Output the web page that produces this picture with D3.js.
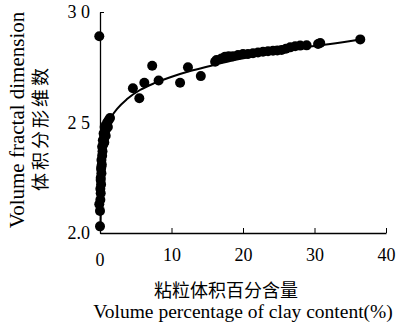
<!DOCTYPE html>
<html>
<head>
<meta charset="UTF-8">
<style>
  body { margin: 0; background: #fff; }
  svg text { font-family: 'Liberation Serif', 'DejaVu Serif', serif; fill: #000; }
  .cjk { font-family: 'Noto Sans CJK SC', sans-serif; }
</style>
</head>
<body>
<div id="chart"></div>
<script src="https://cdnjs.cloudflare.com/ajax/libs/d3/7.8.5/d3.min.js"></script>
<script>
// clay content (%) vs volume fractal dimension
const clay = [
  -0.1, 0, 0, -0.1,
  0.05, 0.1, 0.05, 0.15, 0.1, 0.2, 0.15, 0.25, 0.2, 0.3, 0.35, 0.3, 0.45, 0.4, 0.55, 0.5,
  0.7, 0.65, 0.9, 1.0, 1.2, 1.4, 0.8, 0.2, 0.1, 0.6, 0.85, 1.1,
  4.6, 5.5, 6.2, 7.3, 8.2, 11.2, 12.3, 14.1, 16.1,
  16.3, 17.0, 17.5, 18.0, 18.6, 19.3, 20.0, 20.7, 21.4, 22.1, 22.8, 23.5, 24.2, 24.8,
  25.4, 26.0, 26.6, 27.3, 28.0, 28.9, 30.5, 30.8, 36.4
];
const fractal = [
  2.89, 2.03, 2.10, 2.13,
  2.15, 2.18, 2.20, 2.22, 2.25, 2.27, 2.29, 2.31, 2.33, 2.35, 2.37, 2.39, 2.40, 2.42, 2.43, 2.45,
  2.46, 2.48, 2.49, 2.50, 2.51, 2.52, 2.44, 2.30, 2.24, 2.41, 2.47, 2.48,
  2.655, 2.61, 2.68, 2.757, 2.69, 2.68, 2.75, 2.71, 2.775,
  2.783, 2.79, 2.798, 2.80, 2.80, 2.805, 2.81, 2.81, 2.813, 2.817, 2.82, 2.822, 2.825, 2.826,
  2.828, 2.834, 2.84, 2.845, 2.848, 2.849, 2.855, 2.86, 2.876
];

// fitted curve
const fitX = [0.07, 0.14, 0.35, 0.63, 0.98, 1.54, 2.52, 3.78, 5.59, 7.69, 9.93, 12.6, 15.4, 18.2, 21.0, 23.8, 26.6, 29.4, 32.2, 36.4];
const fitY = [2.036, 2.149, 2.262, 2.376, 2.466, 2.52, 2.566, 2.606, 2.647, 2.679, 2.706, 2.733, 2.756, 2.778, 2.796, 2.814, 2.830, 2.844, 2.855, 2.876];

const xTicks = [0, 10, 20, 30, 40];
const yTicks = [2.0, 2.5, 3.0];
const yTickLabels = ["2.0", "2 5", "3 0"];

const W = 397, H = 329;
const svg = d3.select("#chart").append("svg")
  .attr("width", W).attr("height", H);

const x = d3.scaleLinear().domain([0, 40]).range([100, 386]);
const y = d3.scaleLinear().domain([2.0, 3.0]).range([233, 12]);

// axes (ticks pointing inward)
const xAxis = svg.append("g")
  .attr("transform", `translate(0,${y(2.0)})`)
  .call(d3.axisBottom(x).tickValues(xTicks).tickSizeInner(-5).tickSizeOuter(0).tickPadding(15));
const yAxis = svg.append("g")
  .attr("transform", `translate(${x(0)},0)`)
  .call(d3.axisLeft(y).tickValues(yTicks).tickSizeInner(-4).tickSizeOuter(0).tickPadding(10)
    .tickFormat((d, i) => yTickLabels[i]));

[xAxis, yAxis].forEach(g => {
  g.select(".domain").attr("stroke", "#000").attr("stroke-width", 1.3);
  g.selectAll(".tick line").attr("stroke", "#000");
  g.selectAll(".tick text").style("font-size", "18px").attr("font-family", null);
});
xAxis.selectAll(".tick text").filter(d => d === 0).remove();
xAxis.append("text").attr("x", x(0)).attr("y", 33).attr("text-anchor", "middle")
  .style("font-size", "18px").text("0");

// fitted line
const pts = fitX.map((v, i) => [v, fitY[i]]);
svg.append("path")
  .datum(pts)
  .attr("fill", "none")
  .attr("stroke", "#000")
  .attr("stroke-width", 2)
  .attr("d", d3.line().x(d => x(d[0])).y(d => y(d[1])).curve(d3.curveMonotoneX));

// points
svg.append("g")
  .selectAll("circle")
  .data(clay.map((v, i) => [v, fractal[i]]))
  .join("circle")
  .attr("cx", d => x(d[0]))
  .attr("cy", d => y(d[1]))
  .attr("r", 5)
  .attr("fill", "#000");

// y axis titles
svg.append("text")
  .attr("transform", `translate(24,120) rotate(-90)`)
  .attr("text-anchor", "middle")
  .style("font-size", "21px")
  .text("Volume fractal dimension");
svg.append("text")
  .attr("class", "cjk")
  .attr("transform", `translate(47,128) rotate(-90)`)
  .attr("text-anchor", "middle")
  .style("font-size", "18px")
  .style("letter-spacing", "3px")
  .text("体积分形维数");

// x axis titles
svg.append("text")
  .attr("class", "cjk")
  .attr("x", 226).attr("y", 297)
  .attr("text-anchor", "middle")
  .style("font-size", "18px")
  .text("粘粒体积百分含量");
svg.append("text")
  .attr("x", 243).attr("y", 318)
  .attr("text-anchor", "middle")
  .style("font-size", "19.5px")
  .text("Volume percentage of clay content(%)");
</script>
</body>
</html>
